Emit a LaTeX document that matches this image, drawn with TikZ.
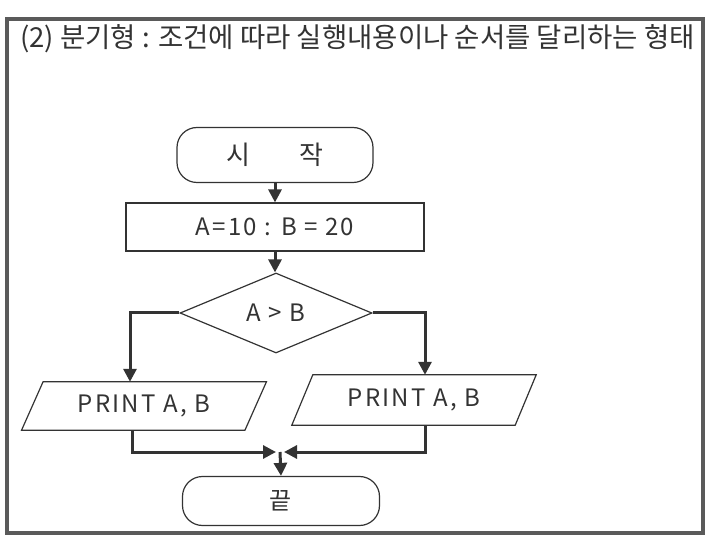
\documentclass[tikz,border=0pt]{standalone}
\usepackage{fontspec}
\setmainfont{Noto Sans CJK KR}
\newfontfamily\lblfont[LetterSpace=9]{Noto Sans CJK KR}
\usetikzlibrary{arrows.meta,shapes.geometric}
\definecolor{ink}{HTML}{333333}
\definecolor{framec}{HTML}{5A5A5A}
\begin{document}
\begin{tikzpicture}[x=1pt,y=-1pt,
  shapeline/.style={draw=ink,line width=1.2pt},
  lbl/.style={font=\lblfont\fontsize{24}{28}\selectfont, text=ink},
  term/.style={shapeline, lbl, rounded corners=20pt, inner sep=0pt},
  box/.style={shapeline, lbl, inner sep=0pt, minimum width=298pt, minimum height=48pt},
  dec/.style={shapeline, lbl, diamond, inner sep=0pt, minimum width=192pt, minimum height=80pt},
  para/.style={lbl, inner sep=0pt, minimum width=223pt},
  flowline/.style={draw=ink, line width=3pt},
  flow/.style={flowline, -{Triangle[length=13pt,width=13pt]}}
]
\useasboundingbox (0,0) rectangle (710,537);
\draw[framec, line width=3.5pt] (7,19) rectangle (703,533);
\node[anchor=west, font=\fontsize{27.5}{32}\selectfont, text=ink, inner sep=0pt] (title) at (20,39)
  {(2) 분기형 : 조건에 따라 실행내용이나 순서를 달리하는 형태};

\node[term, minimum width=196pt, minimum height=55pt] (start) at (275,155) {\fontsize{26}{30}\selectfont 시\hspace{1.9em}작};
\node[box] (init) at (275,227) {A=10 : B = 20};
\node[dec] (cond) at (276,313) {A > B};
\node[para, minimum height=48pt] (p1) at (144,406) {PRINT A, B};
\node[para, minimum height=50pt] (p2) at (414,400) {PRINT A, B};
\node[term, minimum width=197pt, minimum height=49pt] (stop) at (281,501) {끝};

\draw[shapeline] ([xshift=10.75pt]p1.north west) -- ([xshift=10.75pt]p1.north east)
  -- ([xshift=-10.75pt]p1.south east) -- ([xshift=-10.75pt]p1.south west) -- cycle;
\draw[shapeline] ([xshift=10.5pt]p2.north west) -- ([xshift=10.5pt]p2.north east)
  -- ([xshift=-10.5pt]p2.south east) -- ([xshift=-10.5pt]p2.south west) -- cycle;

\draw[flow] (start.south) -- (init.north);
\draw[flow] (init.south) -- (init.south |- cond.north);
\draw[flow] (cond.west) -| ([xshift=-14pt]p1.north);
\draw[flow] (cond.east) -| ([xshift=11pt]p2.north);
\coordinate (m) at (280,452);
\draw[flow] ([xshift=-12pt]p1.south) |- ([xshift=-4pt]m);
\draw[flow] ([xshift=11pt]p2.south) |- ([xshift=4pt]m);
\draw[flow] (m) -- (stop.north);
\end{tikzpicture}
\end{document}
